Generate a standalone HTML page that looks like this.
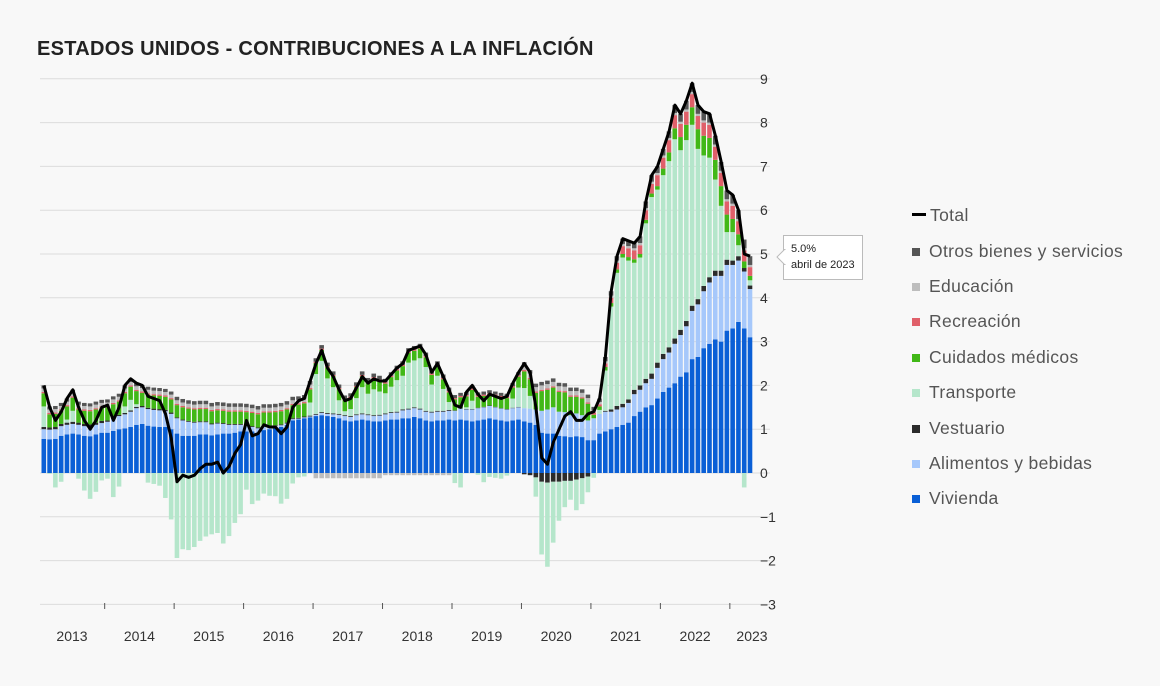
<!DOCTYPE html>
<html><head><meta charset="utf-8">
<style>
body{margin:0;background:#f8f8f8;font-family:"Liberation Sans",sans-serif;}
#wrap{position:relative;width:1160px;height:686px;overflow:hidden;background:#f8f8f8;}
.title{position:absolute;left:37px;top:38px;font-size:20px;font-weight:bold;color:#222;letter-spacing:0.3px;}
.leg{position:absolute;left:912px;font-size:17.5px;color:#555;height:20px;line-height:20px;letter-spacing:0.35px;}
.leg span.sw{display:inline-block;width:8px;height:8px;margin-right:9px;vertical-align:1px;}
.tip{position:absolute;left:783px;top:235px;width:78px;height:43px;background:#fff;border:1px solid #bbb;font-size:11px;color:#222;padding:0;}
</style></head><body>
<div id="wrap">
<div class="title">ESTADOS UNIDOS - CONTRIBUCIONES A LA INFLACIÓN</div>
<svg id="chart" width="1160" height="686" style="position:absolute;left:0;top:0"></svg>
<div class="leg" style="top:205px"><span style="display:inline-block;width:14px;height:3px;background:#000;vertical-align:5px;margin-right:4px"></span>Total</div>
<div class="leg" style="top:241px"><span class="sw" style="background:#555"></span>Otros bienes y servicios</div>
<div class="leg" style="top:276px"><span class="sw" style="background:#bdbdbd"></span>Educación</div>
<div class="leg" style="top:311px"><span class="sw" style="background:#e0606a"></span>Recreación</div>
<div class="leg" style="top:347px"><span class="sw" style="background:#41b817"></span>Cuidados médicos</div>
<div class="leg" style="top:382px"><span class="sw" style="background:#b5e6cb"></span>Transporte</div>
<div class="leg" style="top:418px"><span class="sw" style="background:#2b2b2b"></span>Vestuario</div>
<div class="leg" style="top:453px"><span class="sw" style="background:#a6c8fb"></span>Alimentos y bebidas</div>
<div class="leg" style="top:488px"><span class="sw" style="background:#0a5fd6"></span>Vivienda</div>
<svg width="10" height="16" style="position:absolute;left:776px;top:249px;z-index:2"><polygon points="9,0 1,8 9,16" fill="#fff" stroke="#bbb"/><line x1="9.5" y1="1" x2="9.5" y2="15" stroke="#fff" stroke-width="2"/></svg>
<div class="tip"><div style="position:absolute;left:7px;top:7px">5.0%</div><div style="position:absolute;left:7px;top:23px">abril de 2023</div></div>
</div>
<script>
const years=["2013","2014","2015","2016","2017","2018","2019","2020","2021","2022","2023"];
const yTicks=[-3,-2,-1,0,1,2,3,4,5,6,7,8,9];
const total=[2.0,1.5,1.2,1.4,1.7,1.9,1.5,1.2,1.0,1.2,1.5,
1.55,1.2,1.5,2.0,2.15,2.05,2.0,1.75,1.7,1.65,1.35,0.8,
-0.2,-0.05,-0.1,-0.05,0.1,0.2,0.2,0.25,0,0.15,0.45,0.65,
1.2,0.85,0.9,1.1,1.05,1.05,0.9,1.05,1.5,1.65,1.7,2.1,
2.5,2.8,2.4,2.2,1.9,1.65,1.7,1.95,2.2,2.05,2.15,2.1,
2.1,2.25,2.4,2.5,2.8,2.85,2.9,2.7,2.3,2.5,2.2,1.9,
1.55,1.5,1.85,2.0,1.8,1.65,1.8,1.75,1.7,1.75,2.05,2.3,
2.5,2.3,1.5,0.35,0.2,0.7,1.0,1.3,1.4,1.2,1.2,1.35,
1.4,1.7,2.65,4.15,4.95,5.35,5.3,5.25,5.4,6.2,6.8,7.0,
7.4,7.8,8.4,8.2,8.5,8.9,8.4,8.25,8.2,7.7,7.1,6.45,
6.35,6.0,5.0,4.95];
const vivienda=[.78,.77,.78,.85,.88,.9,.88,.85,.84,.88,.92,
.92,.96,1.0,1.02,1.05,1.1,1.12,1.08,1.06,1.05,1.05,1.0,
.9,.85,.85,.85,.88,.88,.86,.88,.9,.9,.92,.95,
.95,.95,.92,.98,1.0,1.02,1.05,1.1,1.2,1.22,1.25,1.27,
1.3,1.32,1.3,1.28,1.25,1.2,1.18,1.2,1.22,1.2,1.18,1.18,
1.2,1.22,1.22,1.25,1.25,1.28,1.25,1.2,1.18,1.2,1.2,1.22,
1.2,1.22,1.2,1.18,1.2,1.22,1.25,1.22,1.2,1.18,1.2,1.22,
1.18,1.15,1.1,.92,.9,.9,.85,.84,.82,.84,.82,.75,
.75,.9,.95,1.0,1.05,1.1,1.15,1.3,1.4,1.5,1.55,1.7,
1.85,1.95,2.05,2.2,2.3,2.6,2.65,2.85,2.95,3.05,3.0,3.25,
3.3,3.45,3.3,3.1];
const alimentos=[.22,.22,.22,.22,.22,.22,.22,.22,.22,.22,.22,
.25,.28,.3,.32,.35,.38,.38,.38,.38,.38,.36,.35,
.35,.35,.32,.3,.28,.28,.25,.25,.22,.2,.18,.15,
.12,.1,.1,.08,.06,.05,.04,.03,.03,.02,.02,.02,
.03,.05,.05,.06,.08,.1,.1,.12,.12,.12,.12,.13,
.14,.15,.16,.18,.2,.2,.2,.2,.2,.2,.2,.2,
.22,.25,.25,.27,.28,.28,.28,.28,.27,.27,.28,.28,
.3,.32,.35,.5,.55,.6,.55,.55,.5,.52,.5,.45,
.5,.45,.45,.4,.4,.4,.45,.5,.5,.55,.6,.7,
.75,.8,.9,.95,1.05,1.1,1.2,1.3,1.4,1.45,1.5,1.5,
1.45,1.4,1.3,1.1];
const vestuario=[.05,.05,.05,.05,.05,.05,.05,.05,.05,.05,.05,
.03,.03,.03,.03,.03,.03,.03,.03,.03,.03,.03,.03,
.02,.02,.02,.02,.02,.02,.02,.02,.02,.02,.02,.02,
.02,.02,.02,.02,.02,.02,.02,.02,.02,.02,.02,.02,
.02,.02,.02,.02,.02,.02,.02,.02,.02,.02,.02,.02,
.02,.02,.02,.02,.02,.02,.02,.02,.02,.02,.02,.02,
.01,.01,.01,.01,.01,.01,.01,.01,.01,.01,.01,.01,
-.03,-.05,-.1,-.2,-.22,-.2,-.2,-.18,-.18,-.15,-.12,-.08,
0,0,.02,.05,.08,.08,.08,.1,.1,.1,.12,.12,
.12,.12,.12,.12,.12,.12,.12,.12,.12,.12,.12,.12,
.1,.1,.08,.08];
const transporte=[.47,-.02,-.33,-.2,.07,.25,-.13,-.4,-.59,-.43,-.17,
-.13,-.55,-.31,.15,.24,.06,-.01,-.22,-.25,-.29,-.57,-1.06,
-1.94,-1.74,-1.76,-1.69,-1.55,-1.45,-1.4,-1.37,-1.61,-1.44,-1.14,-.94,
-.38,-.71,-.63,-.47,-.52,-.53,-.7,-.59,-.24,-.1,-.08,.3,
.91,1.17,.79,.6,.31,.09,.16,.37,.6,.47,.59,.53,
.46,.58,.72,.77,1.05,1.07,1.15,1.0,.62,.8,.5,.18,
-.23,-.33,.04,.19,-.04,-.21,-.09,-.11,-.13,-.06,.21,.44,
.46,.29,-.44,-1.66,-1.92,-1.39,-.89,-.6,-.43,-.7,-.59,-.36,
-.11,.09,.92,2.35,3.04,3.34,3.17,2.9,2.92,3.55,4.03,3.95,
4.08,4.25,4.55,4.1,4.13,4.13,3.43,2.98,2.73,2.08,1.48,.63,
.65,.25,-.33,.12];
const cuidados=[.3,.3,.3,.3,.3,.3,.3,.3,.3,.3,.3,
.3,.3,.3,.3,.3,.3,.3,.3,.3,.3,.3,.3,
.28,.28,.28,.28,.28,.28,.28,.28,.28,.28,.28,.28,
.3,.3,.3,.3,.3,.3,.3,.3,.3,.3,.3,.3,
.25,.25,.25,.25,.25,.25,.25,.25,.25,.25,.25,.25,
.22,.22,.22,.22,.22,.22,.22,.22,.22,.22,.22,.22,
.25,.25,.25,.25,.25,.25,.25,.25,.25,.25,.25,.25,
.38,.38,.38,.45,.45,.45,.45,.45,.42,.38,.38,.38,
.08,.08,.08,.08,.08,.08,.08,.08,.08,.08,.08,.08,
.15,.2,.25,.3,.35,.4,.45,.45,.45,.45,.45,.4,
.3,.25,.15,.1];
const recreacion=[.03,.03,.03,.03,.03,.03,.03,.03,.03,.03,.03,
.03,.03,.03,.03,.03,.03,.03,.03,.03,.03,.03,.03,
.03,.03,.03,.03,.03,.03,.03,.03,.03,.03,.03,.03,
.03,.03,.03,.03,.03,.03,.03,.03,.03,.03,.03,.03,
.03,.03,.03,.03,.03,.03,.03,.03,.03,.03,.03,.03,
.03,.03,.03,.03,.03,.03,.03,.03,.03,.03,.03,.03,
.03,.03,.03,.03,.03,.03,.03,.03,.03,.03,.03,.03,
.03,.03,.03,.03,.03,.03,.03,.03,.03,.03,.03,.03,
.05,.05,.08,.12,.15,.18,.2,.2,.2,.22,.22,.25,
.25,.28,.3,.3,.3,.3,.3,.3,.3,.3,.3,.3,
.3,.3,.25,.2];
const educacion=[.08,.08,.08,.08,.08,.08,.08,.08,.08,.08,.08,
.08,.08,.08,.08,.08,.08,.08,.08,.08,.08,.08,.08,
.08,.08,.08,.08,.08,.08,.08,.08,.08,.08,.08,.08,
.08,.08,.08,.08,.08,.08,.08,.08,.08,.08,.08,.08,
-.12,-.12,-.12,-.12,-.12,-.12,-.12,-.12,-.12,-.12,-.12,-.12,
-.05,-.05,-.05,-.05,-.05,-.05,-.05,-.05,-.05,-.05,-.05,-.05,
0,0,0,0,0,0,0,0,0,0,0,0,
.1,.1,.1,.1,.1,.1,.1,.1,.1,.1,.1,.1,
.05,.05,.05,.05,.05,.05,.05,.05,.05,.05,.05,.05,
.05,.05,.05,.05,.05,.05,.05,.05,.05,.05,.05,.05,
.05,.05,.05,.05];
const otros=[.07,.07,.07,.07,.07,.07,.07,.07,.07,.07,.07,
.07,.07,.07,.07,.07,.07,.07,.07,.07,.07,.07,.07,
.08,.08,.08,.08,.08,.08,.08,.08,.08,.08,.08,.08,
.08,.08,.08,.08,.08,.08,.08,.08,.08,.08,.08,.08,
.08,.08,.08,.08,.08,.08,.08,.08,.08,.08,.08,.08,
.08,.08,.08,.08,.08,.08,.08,.08,.08,.08,.08,.08,
.07,.07,.07,.07,.07,.07,.07,.07,.07,.07,.07,.07,
.08,.08,.08,.08,.08,.08,.08,.08,.08,.08,.08,.08,
.08,.08,.1,.1,.1,.12,.12,.12,.15,.15,.15,.15,
.15,.15,.18,.18,.2,.2,.2,.2,.2,.2,.2,.2,
.2,.2,.2,.2];
const seriesNames=["vivienda","alimentos","vestuario","transporte","cuidados","recreacion","educacion","otros"];
const seriesData=[vivienda,alimentos,vestuario,transporte,cuidados,recreacion,educacion,otros];
const seriesColors=["#0a5fd6","#a6c8fb","#2b2b2b","#b5e6cb","#41b817","#e0606a","#bdbdbd","#555555"];

const NS="http://www.w3.org/2000/svg";
const svg=document.getElementById("chart");
const X0=41,X1=753,N=total.length,step=(X1-X0)/N;
const firstMonth=1; // Feb 2013
function xs(i){return X0+i*step;}
function ys(v){return 473-43.8*v;}
function mk(tag,attrs){const e=document.createElementNS(NS,tag);for(const k in attrs)e.setAttribute(k,attrs[k]);svg.appendChild(e);return e;}
yTicks.forEach(t=>{
  const l=mk("line",{x1:40,x2:770,y1:ys(t),y2:ys(t),stroke:"#dcdcdc","stroke-width":1});
  
  
  const tx=mk("text",{x:760,y:ys(t)+5,"font-size":14,fill:"#333","font-family":"Liberation Sans, sans-serif"});
  tx.textContent=t<0?"\u2212"+(-t):String(t);
  
  
});
for(let i=0;i<N;i++){
  let pos=0,neg=0;
  for(let s=0;s<seriesData.length;s++){
    const v=seriesData[s][i];if(!v)continue;
    let y,h;
    if(v>0){y=ys(pos+v);h=ys(pos)-y;pos+=v;}else{y=ys(neg);h=ys(neg+v)-y;neg+=v;}
    const r=mk("rect",{x:xs(i)+0.5,y:y,width:step-1.2,height:h,fill:seriesColors[s]});
    
    
  }
}
let d="";
for(let i=0;i<N;i++){d+=(i?"L":"M")+(xs(i)+step/2).toFixed(1)+" "+ys(total[i]).toFixed(1);}
const ln=mk("path",{d:d,fill:"none",stroke:"#000","stroke-width":3,"stroke-linejoin":"round"});


years.forEach((yr,k)=>{
  const start=Math.max(0,k*12-firstMonth),end=Math.min(N,(k+1)*12-firstMonth);
  if(k>0){const tk=mk("line",{x1:xs(start),x2:xs(start),y1:603,y2:609,stroke:"#555","stroke-width":1});
    
    }
  let cx=(xs(start)+xs(start+12))/2;
  if(k===0)cx=72;
  if(k===years.length-1)cx=752;
  const tx=mk("text",{x:cx,y:641,"font-size":14,fill:"#333","text-anchor":"middle","font-family":"Liberation Sans, sans-serif"});
  tx.textContent=yr;
  
  
});
</script>
</body></html>
